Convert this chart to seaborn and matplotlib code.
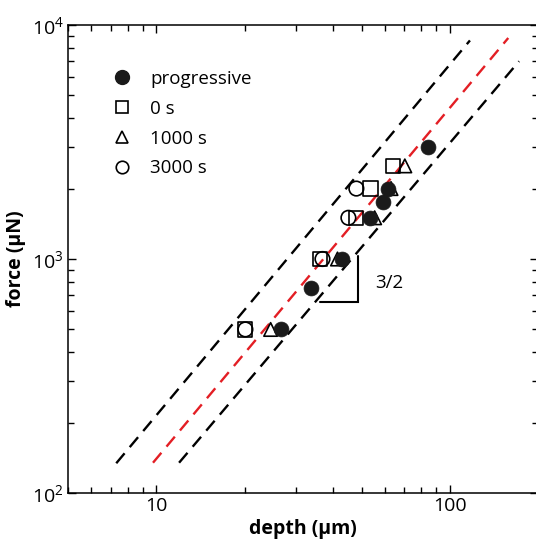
import numpy as np
import matplotlib
matplotlib.use("Agg")
import matplotlib.pyplot as plt
import seaborn as sns
from matplotlib.lines import Line2D
from matplotlib.ticker import FixedLocator, FuncFormatter, LogLocator

# ---------------------------------------------------------------------------
# Data
# ---------------------------------------------------------------------------
prog_depth = [26.6, 33.5, 42.8, 53.3, 59.0, 61.5, 84.4]
prog_force = [500, 750, 1000, 1500, 1750, 2000, 3000]

hold0_depth = [20.1, 36.1, 48.0, 53.6, 64.1]
hold0_force = [500, 1000, 1500, 2000, 2500]

hold1000_depth = [24.5, 41.4, 55.4, 63.0, 70.2]
hold1000_force = [500, 1000, 1500, 2000, 2500]

hold3000_depth = [20.1, 36.8, 45.1, 48.0]
hold3000_force = [500, 1000, 1500, 2000]

# guide lines (slope 3/2), end points
upper_depth = [7.3, 117.0]
upper_force = [134, 8590]
mid_depth = [9.74, 158.0]
mid_force = [134.7, 8800]
lower_depth = [11.95, 172.0]
lower_force = [134.7, 7000]

# slope triangle corners
tri_depth = [36.0, 48.6, 48.6]
tri_force = [657, 657, 1035]

legend_labels = ["progressive", "0 s", "1000 s", "3000 s"]

# ---------------------------------------------------------------------------
sns.set_style("ticks")
plt.rcParams["font.family"] = ["Open Sans", "DejaVu Sans"]
plt.rcParams["mathtext.fontset"] = "custom"
plt.rcParams["mathtext.rm"] = "Open Sans"
plt.rcParams["text.color"] = "black"
plt.rcParams["axes.labelcolor"] = "black"
plt.rcParams["xtick.color"] = "black"
plt.rcParams["ytick.color"] = "black"

W, H = 536, 548
fig = plt.figure(figsize=(W / 100, H / 100), dpi=100)
left, right, top, bottom = 68, 538.3, 25, 493
ax = fig.add_axes([left / W, (H - bottom) / H, (right - left) / W, (bottom - top) / H])
ax.set_xscale("log")
ax.set_yscale("log")

dash = dict(linewidth=1.7, dashes=(5.5, 3.4))
sns.lineplot(x=upper_depth, y=upper_force, color="black", ax=ax, **dash)
sns.lineplot(x=mid_depth, y=mid_force, color="#e31e24", ax=ax, **dash)
sns.lineplot(x=lower_depth, y=lower_force, color="black", ax=ax, **dash)

ax.plot(tri_depth, tri_force, color="black", linewidth=1.5, solid_joinstyle="miter")
ax.text(55.5, 789, "3/2", fontsize=13.5, va="center", ha="left")

open_kw = dict(facecolor="none", edgecolor="black", linewidth=1.2, zorder=3)
ax.scatter(hold0_depth, hold0_force, marker="s", s=105, **open_kw)
ax.scatter(hold1000_depth, hold1000_force, marker="^", s=95, **open_kw)
ax.scatter(hold3000_depth, hold3000_force, marker="o", s=110, **open_kw)
sns.scatterplot(x=prog_depth, y=prog_force, marker="o", s=115, color="#1a1a1a",
                edgecolor="#1a1a1a", linewidth=0.5, zorder=4, ax=ax)

ax.set_xlim(5, 200)
ax.set_ylim(100, 10000)

# ticks
ax.xaxis.set_major_locator(FixedLocator([10, 100]))
ax.xaxis.set_minor_locator(LogLocator(base=10, subs=np.arange(2, 10), numticks=20))
ax.xaxis.set_major_formatter(FuncFormatter(lambda v, p: f"{v:g}"))
ax.xaxis.set_minor_formatter(FuncFormatter(lambda v, p: ""))
ax.yaxis.set_minor_locator(LogLocator(base=10, subs=np.arange(2, 10), numticks=20))
ax.tick_params(which="both", direction="in", top=True, right=True, width=1.0,
               color="black")
ax.tick_params(which="major", length=6, labelsize=14, pad=3)
ax.tick_params(which="minor", length=4)
for sp in ax.spines.values():
    sp.set_linewidth(1.1)
    sp.set_color("black")

ax.set_xlabel("depth (µm)", fontsize=14, fontweight="bold", labelpad=3)
ax.set_ylabel("force (µN)", fontsize=14, fontweight="bold", labelpad=4)

handles = [
    Line2D([], [], marker="o", linestyle="none", markersize=10,
           markerfacecolor="#1a1a1a", markeredgecolor="#1a1a1a"),
    Line2D([], [], marker="s", linestyle="none", markersize=9,
           markerfacecolor="none", markeredgecolor="black", markeredgewidth=1.2),
    Line2D([], [], marker="^", linestyle="none", markersize=9,
           markerfacecolor="none", markeredgecolor="black", markeredgewidth=1.2),
    Line2D([], [], marker="o", linestyle="none", markersize=9,
           markerfacecolor="none", markeredgecolor="black", markeredgewidth=1.2),
]
ax.legend(handles, legend_labels, loc="upper left", bbox_to_anchor=(0.095, 0.904),
          frameon=False, fontsize=13.5, handlelength=1.0, handletextpad=1.0,
          labelspacing=0.63, borderpad=0, borderaxespad=0)

fig.savefig("out.png", dpi=100)
